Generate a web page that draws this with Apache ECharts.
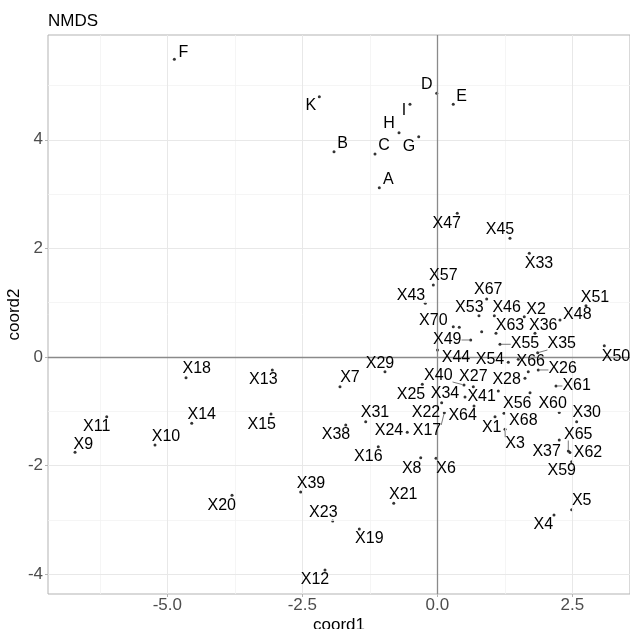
<!DOCTYPE html>
<html>
<head>
<meta charset="utf-8">
<script src="https://cdn.jsdelivr.net/npm/echarts@6/dist/echarts.min.js"></script>
<style>
html, body { margin: 0; padding: 0; background: #ffffff; }
#chart { width: 630px; height: 629px; }
</style>
</head>
<body>
<div id="chart"></div>
<script>
// NMDS site scores (coord1, coord2) and the repelled label positions
const sampleNames = [
  'A','B','C','D','E','F','G','H','I','K',
  'X1','X2','X3','X4','X5','X6','X7','X8','X9','X10',
  'X11','X12','X13','X14','X15','X16','X17','X18','X19','X20',
  'X21','X22','X23','X24','X25','X26','X27','X28','X29','X30',
  'X31','X32','X33','X34','X35','X36','X37','X38','X39','X40',
  'X41','X42','X43','X44','X45','X46','X47','X48','X49','X50',
  'X51','X52','X53','X54','X55','X56','X57','X59','X60','X61',
  'X62','X63','X64','X65','X66','X67','X68','X70'
];
const coord1 = [
  -1.074,-1.913,-1.154,-0.011,0.296,-4.870,-0.344,-0.709,-0.506,-2.185,
  1.069,1.611,1.254,2.161,2.489,-0.024,-1.802,-0.307,-6.709,-5.228,
  -6.122,-2.080,-3.056,-4.548,-3.080,-1.093,0.130,-4.654,-1.444,-3.802,
  -0.807,0.081,-1.937,-0.556,-0.278,1.870,0.667,1.624,-0.969,2.581,
  -1.326,0.407,1.704,0.513,1.859,1.809,2.259,-1.696,-2.530,0.494,
  1.130,0.822,-0.222,0.004,1.346,1.056,0.370,2.272,0.619,3.093,
  2.754,1.500,0.772,1.315,1.161,1.717,-0.074,2.489,2.259,2.198,
  2.457,1.087,0.680,2.426,1.685,0.915,1.235,0.296
];
const coord2 = [
  3.118,3.781,3.738,4.856,4.654,5.483,4.057,4.131,4.654,4.794,
  -1.099,0.742,-1.331,-2.910,-2.812,-1.866,-0.547,-1.855,-1.755,-1.621,
  -1.099,-3.923,-0.239,-1.221,-1.050,-1.652,-1.026,-0.381,-3.168,-2.547,
  -2.694,-0.842,-3.020,-1.387,-0.503,-0.239,-0.547,-0.392,-0.271,-1.192,
  -1.192,0.547,1.910,-0.737,0.079,0.436,-1.529,-1.252,-2.486,-0.516,
  -0.626,0.466,0.989,0.129,2.186,0.761,2.646,0.681,0.313,0.208,
  0.945,-0.042,0.761,-0.098,0.234,-0.657,1.326,-1.928,-1.022,-0.534,
  -1.759,0.436,-0.902,-1.731,-0.271,1.068,-1.037,0.558
];
// label anchors in data units (null = label dropped)
const labelCoord1 = [
  -0.907,-1.752,-0.987,-0.196,0.452,-4.704,-0.524,-0.894,-0.617,-2.344,
  1.007,1.828,1.439,1.963,2.674,0.161,-1.617,-0.474,-6.556,-5.024,
  -6.307,-2.265,-3.222,-4.363,-3.252,-1.278,-0.191,-4.456,-1.259,-3.993,
  -0.630,-0.209,-2.111,-0.894,-0.487,2.322,0.667,1.285,-1.061,2.767,
  -1.154,null,1.883,0.143,2.304,1.963,2.026,-1.876,-2.339,0.019,
  0.822,null,-0.487,0.346,1.161,1.285,0.174,2.593,0.185,3.309,
  2.920,null,0.593,0.976,1.624,1.481,0.111,2.304,2.137,2.581,
  2.791,1.346,0.470,2.611,1.730,0.944,1.593,-0.074
];
const labelCoord2 = [
  3.260,3.923,3.886,5.009,4.794,5.611,3.873,4.291,4.536,4.622,
  -1.295,0.878,-1.589,-3.094,-2.646,-2.050,-0.374,-2.050,-1.621,-1.468,
  -1.284,-4.107,-0.424,-1.068,-1.243,-1.836,-1.363,-0.221,-3.339,-2.744,
  -2.541,-1.031,-2.873,-1.363,-0.700,-0.208,-0.363,-0.411,-0.116,-1.026,
  -1.026,null,1.726,-0.681,0.239,0.571,-1.744,-1.436,-2.326,-0.350,
  -0.731,null,1.129,-0.006,2.339,0.915,2.462,0.773,0.326,0.000,
  1.099,null,0.915,-0.042,0.252,-0.853,1.492,-2.099,-0.853,-0.534,
  -1.762,0.571,-1.087,-1.427,-0.087,1.247,-1.179,0.663
];
const xTicks = [-5, -2.5, 0, 2.5];
const yTicks = [-4, -2, 0, 2, 4];
const xMinor = [-6.25, -3.75, -1.25, 1.25];
const yMinor = [-3, -1, 1, 3, 5];

const FONT = '"Liberation Sans", Arial, Helvetica, sans-serif';
const LABEL_SIZE = 16;

const measureCtx = document.createElement('canvas').getContext('2d');
measureCtx.font = LABEL_SIZE + 'px ' + FONT;
function textWidth(s) { return measureCtx.measureText(s).width; }

const labelled = [];
sampleNames.forEach(function (n, i) { if (labelCoord1[i] !== null) labelled.push(i); });

function gridLines(xs, ys, color, width, z) {
  return {
    type: 'scatter', data: [], z: z, silent: true,
    markLine: {
      silent: true, animation: false, symbol: ['none', 'none'],
      label: { show: false }, emphasis: { disabled: true },
      lineStyle: { color: color, width: width, type: 'solid' },
      data: xs.map(function (v) { return { xAxis: v }; })
        .concat(ys.map(function (v) { return { yAxis: v }; }))
    }
  };
}

const chart = echarts.init(document.getElementById('chart'), null, { renderer: 'canvas' });
chart.setOption({
  animation: false,
  backgroundColor: '#ffffff',
  grid: { left: 48, top: 35, right: 0, bottom: 35, show: true, borderColor: '#b3b3b3', borderWidth: 1 },
  xAxis: {
    type: 'value', min: -7.21, max: 3.569,
    splitLine: { show: false },
    axisLine: { show: false, onZero: false },
    axisTick: { show: true, customValues: xTicks, length: 3, lineStyle: { color: '#b3b3b3' } },
    axisLabel: { customValues: xTicks, formatter: function (v) { return v.toFixed(1); },
      color: '#4d4d4d', fontSize: 17, fontFamily: FONT, margin: 3 }
  },
  yAxis: {
    type: 'value', min: -4.365, max: 5.93,
    splitLine: { show: false },
    axisLine: { show: false, onZero: false },
    axisTick: { show: true, customValues: yTicks, length: 3, lineStyle: { color: '#b3b3b3' } },
    axisLabel: { customValues: yTicks, formatter: function (v) { return String(v); },
      color: '#4d4d4d', fontSize: 17, fontFamily: FONT, margin: 5 }
  },
  graphic: [
    { type: 'text', x: 48, y: 21, style: { text: 'NMDS', font: '17px ' + FONT, fill: '#000', align: 'left', verticalAlign: 'middle' } },
    { type: 'text', x: 339, y: 625, style: { text: 'coord1', font: '17px ' + FONT, fill: '#000', align: 'center', verticalAlign: 'middle' } },
    { type: 'text', x: 14, y: 314.5, rotation: Math.PI / 2, style: { text: 'coord2', font: '17px ' + FONT, fill: '#000', align: 'center', verticalAlign: 'middle' } }
  ],
  series: [
    gridLines(xMinor, yMinor, '#f3f3f3', 0.8, 1),
    gridLines(xTicks, yTicks, '#e8e8e8', 1, 2),
    gridLines([0], [0], '#8a8a8a', 1.3, 3),
    {
      type: 'scatter', name: 'sites', z: 4, silent: true,
      symbol: 'circle', symbolSize: 3,
      itemStyle: { color: '#000000' },
      data: coord1.map(function (x, i) { return [x, coord2[i]]; })
    },
    {
      type: 'custom', name: 'labels', z: 5, silent: true, clip: false,
      encode: { x: 0, y: 1 },
      data: labelled.map(function (i) {
        return { name: sampleNames[i], value: [labelCoord1[i], labelCoord2[i], coord1[i], coord2[i]] };
      }),
      renderItem: function (params, api) {
        const name = sampleNames[labelled[params.dataIndex]];
        const lp = api.coord([api.value(0), api.value(1)]);
        const pp = api.coord([api.value(2), api.value(3)]);
        const hw = textWidth(name) / 2, hh = 6;
        const nx = Math.min(Math.max(pp[0], lp[0] - hw), lp[0] + hw);
        const ny = Math.min(Math.max(pp[1], lp[1] - hh), lp[1] + hh);
        const dx = pp[0] - nx, dy = pp[1] - ny;
        const d = Math.sqrt(dx * dx + dy * dy);
        const children = [{
          type: 'text',
          style: { x: lp[0], y: lp[1], text: name, fill: '#000', font: LABEL_SIZE + 'px ' + FONT,
            align: 'center', verticalAlign: 'middle' }
        }];
        if (d > 6) {
          children.push({
            type: 'line',
            shape: { x1: nx, y1: ny, x2: pp[0] - dx / d * 1.5, y2: pp[1] - dy / d * 1.5 },
            style: { stroke: '#222', lineWidth: 0.6 }
          });
        }
        return { type: 'group', children: children };
      }
    }
  ]
});
</script>
</body>
</html>
